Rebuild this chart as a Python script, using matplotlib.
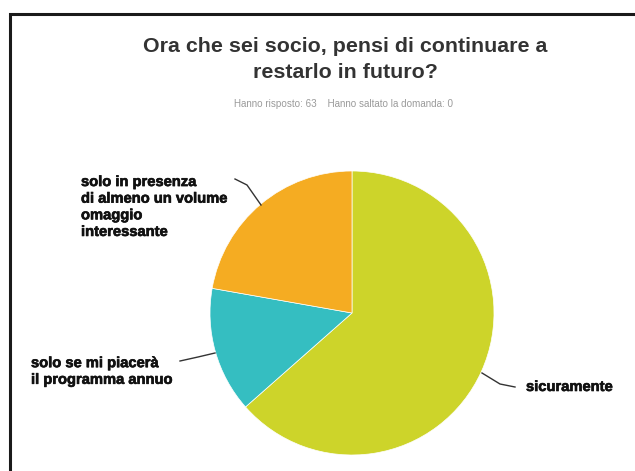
import matplotlib
matplotlib.use("Agg")
import matplotlib.pyplot as plt
import matplotlib.patheffects as pe

categories = ["sicuramente", "solo se mi piacerà\nil programma annuo",
              "solo in presenza\ndi almeno un volume\nomaggio\ninteressante"]
values = [40, 9, 14]
colors = ["#CDD42A", "#35BEC1", "#F5AC22"]

W, H = 635, 471
fig = plt.figure(figsize=(W / 100, H / 100), dpi=100)
ax = fig.add_axes([0, 0, 1, 1])

def Y(y):
    return H - y

ax.pie(values, colors=colors, startangle=90, counterclock=False,
       center=(352, Y(313)), radius=142, frame=True,
       wedgeprops=dict(edgecolor="white", linewidth=0.5))
ax.set_xlim(0, W)
ax.set_ylim(0, H)
ax.set_aspect("equal")
ax.axis("off")

# frame (left and top borders)
ax.plot([9.5, 9.5, W + 5], [Y(H + 5), Y(13.5), Y(13.5)], color="#1a1a1a", lw=2.2,
        solid_capstyle="butt", solid_joinstyle="miter")

ax.text(345, Y(47), "Ora che sei socio, pensi di continuare a", ha="center", va="center",
        fontsize=15.4, fontweight="bold", color="#333333", family="Liberation Sans")
ax.text(345, Y(72), "restarlo in futuro?", ha="center", va="center",
        fontsize=15.4, fontweight="bold", color="#333333", family="Liberation Sans")
ax.text(343, Y(104), "Hanno risposto: 63    Hanno saltato la domanda: 0", ha="center", va="center",
        fontsize=7.1, color="#9a9a9a", family="Liberation Sans")

heavy = [pe.withStroke(linewidth=0.45, foreground="#111111")]
lab_kw = dict(fontsize=10.6, fontweight="bold", color="#111111", family="Liberation Sans",
              linespacing=1.24, ha="left", va="center", path_effects=heavy)
ax.text(81, Y(207), categories[2], **lab_kw)
ax.text(31, Y(371.5), categories[1], **lab_kw)
ax.text(526, Y(387), categories[0], **lab_kw)

line_kw = dict(color="#333333", lw=1.0)
ax.plot([235, 247, 261], [Y(179), Y(185), Y(205)], **line_kw)
ax.plot([180, 198, 215], [Y(361), Y(357), Y(353)], **line_kw)
ax.plot([482, 500, 515], [Y(373), Y(384), Y(387)], **line_kw)

fig.savefig("out.png", dpi=100, facecolor="white")
